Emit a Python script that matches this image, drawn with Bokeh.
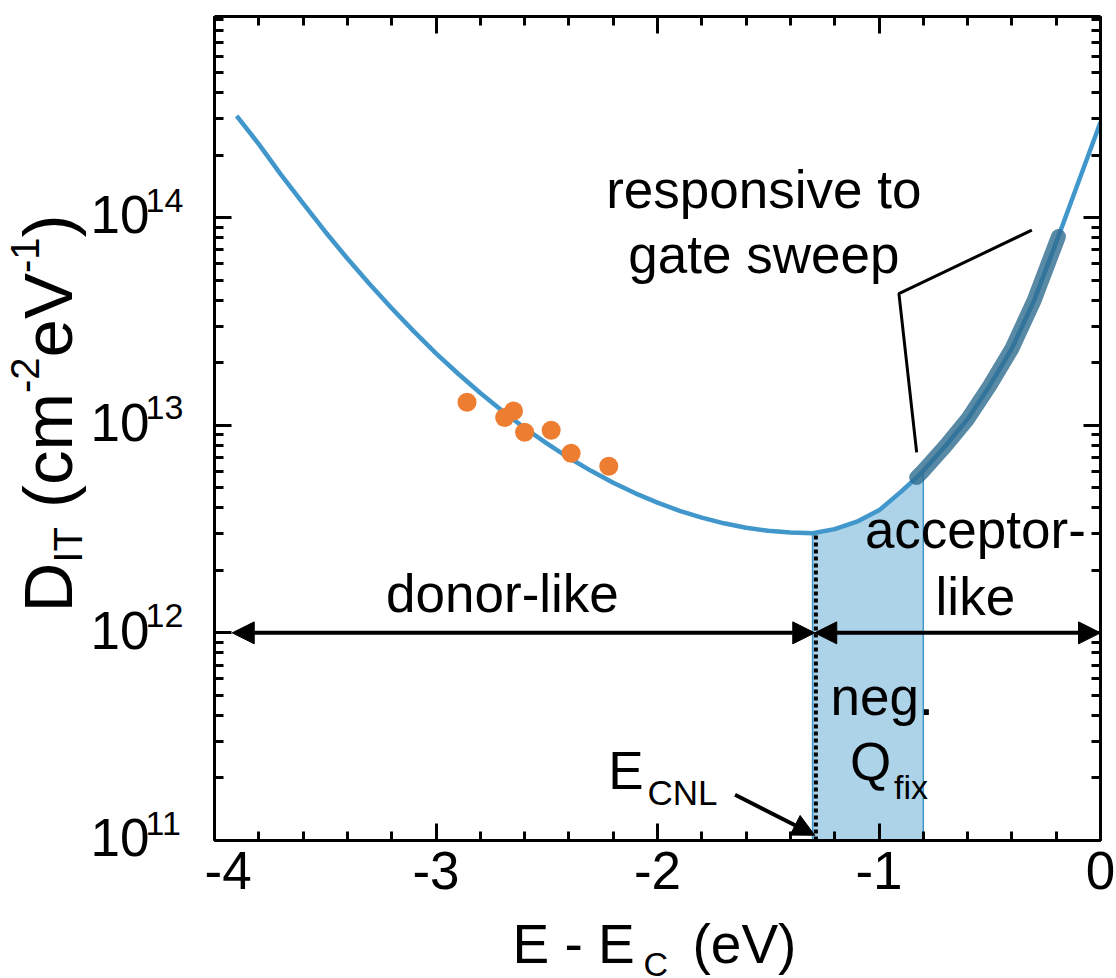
from math import pi, log10
from bokeh.plotting import figure
from bokeh.layouts import column, row
from bokeh.models import (Label, Arrow, NormalHead, LinearAxis, LogAxis,
                          FixedTicker, Range1d)
from bokeh.embed import file_html
from bokeh.resources import INLINE

# ---------------- data ----------------
curve_x = [-3.90, -3.80, -3.70, -3.60, -3.50, -3.40, -3.30, -3.20, -3.10, -3.00,
           -2.90, -2.80, -2.70, -2.60, -2.50, -2.40, -2.30, -2.20, -2.10, -2.00,
           -1.90, -1.80, -1.70, -1.60, -1.50, -1.40, -1.30, -1.20, -1.10, -1.00,
           -0.90, -0.83, -0.80, -0.70, -0.60, -0.50, -0.40, -0.30, -0.20, -0.10, 0.00]
curve_y = [3.09e14, 2.26e14, 1.61e14, 1.17e14, 8.55e13, 6.35e13, 4.79e13, 3.66e13, 2.83e13, 2.22e13,
           1.77e13, 1.43e13, 1.17e13, 9.7e12, 8.17e12, 6.97e12, 6.03e12, 5.28e12, 4.70e12, 4.24e12,
           3.87e12, 3.59e12, 3.37e12, 3.21e12, 3.10e12, 3.04e12, 3.02e12, 3.16e12, 3.43e12, 3.89e12,
           4.79e12, 5.6e12, 6.03e12, 7.94e12, 1.07e13, 1.55e13, 2.34e13, 3.98e13, 7.59e13, 1.48e14, 2.88e14]

sweep_x = [-0.83, -0.80, -0.70, -0.60, -0.50, -0.40, -0.30, -0.20, -0.19]
sweep_y = [5.6e12, 6.03e12, 7.94e12, 1.07e13, 1.55e13, 2.34e13, 3.98e13, 7.59e13, 8.1e13]

meas_x = [-2.86, -2.69, -2.65, -2.60, -2.48, -2.39, -2.22]
meas_y = [1.29e13, 1.09e13, 1.17e13, 9.25e12, 9.46e12, 7.33e12, 6.35e12]

fill_left, fill_right = -1.30, -0.80
fill_x = [x for x in curve_x if fill_left <= x <= fill_right]
fill_top = [y for x, y in zip(curve_x, curve_y) if fill_left <= x <= fill_right]
E_cnl = -1.285
cnl_top = 3.02e12
qfix_right_top = 6.03e12

arrow_level = 1e12
donor_span = [-3.92, -1.29]
acceptor_span = [-1.29, 0.0]

leader_x = [-0.31, -0.91, -0.83]
leader_y = [8.7e13, 4.3e13, 7.4e12]

x_ticks = [-4, -3, -2, -1, 0]
x_tick_labels = ["-4", "-3", "-2", "-1", "0"]
x_minor = [-4 + 0.2 * i for i in range(21)]
y_ticks = [1e11, 1e12, 1e13, 1e14]
y_exps = ["11", "12", "13", "14"]
y_minor = [k * 10.0 ** n for n in range(11, 15) for k in range(1, 10)]

x_lo, x_hi = -4.0, 0.0
y_lo, y_hi = 1e11, 9.3e14

FONT = "Liberation Sans"
BLUE = "#4197cb"
FILL = "#acd3e8"
ORANGE = "#ed7d31"

# page geometry (pixels)
W_PAGE, H_PAGE = 1116, 978
LEFT_W = 204            # strip holding the y tick labels and the y title
TOP_H = 915             # height of the row holding the plot
FRAME_TOP, FRAME_BOTTOM = 16, 840
PX_PER_DEC = (FRAME_BOTTOM - FRAME_TOP) / (log10(y_hi) - log10(y_lo))
BASE_FIX = 0.39         # em shift so the alphabetic baseline lands where intended

# ---------------- main figure ----------------
p = figure(width=W_PAGE - LEFT_W, height=TOP_H, x_range=Range1d(x_lo, x_hi),
           y_range=Range1d(y_lo, y_hi), y_axis_type="log", output_backend="svg",
           toolbar_location=None, min_border_left=10, min_border_right=16,
           min_border_top=FRAME_TOP, min_border_bottom=TOP_H - FRAME_BOTTOM,
           x_axis_location=None, y_axis_location=None)
p.grid.visible = False
p.outline_line_color = None


def style_axis(ax, show_labels):
    ax.axis_line_width = 3
    ax.axis_line_color = "black"
    ax.major_tick_in = 17
    ax.major_tick_out = 0
    ax.minor_tick_in = 9
    ax.minor_tick_out = 0
    ax.major_tick_line_width = 3
    ax.minor_tick_line_width = 3
    ax.major_tick_line_color = "black"
    ax.minor_tick_line_color = "black"
    if show_labels:
        ax.major_label_text_font = FONT
        ax.major_label_text_font_size = "53px"
        ax.major_label_text_color = "black"
        ax.major_label_standoff = 11
        ax.major_label_overrides = dict(zip(x_ticks, x_tick_labels))
    else:
        ax.major_label_text_font_size = "1px"
        ax.major_label_text_color = None
        ax.major_label_standoff = 0


xt = FixedTicker(ticks=x_ticks, minor_ticks=x_minor)
yt = FixedTicker(ticks=y_ticks, minor_ticks=y_minor)
bottom = LinearAxis(ticker=xt)
style_axis(bottom, True)
top = LinearAxis(ticker=xt)
style_axis(top, False)
left = LogAxis(ticker=yt)
style_axis(left, False)
right = LogAxis(ticker=yt)
style_axis(right, False)
p.add_layout(bottom, "below")
p.add_layout(top, "above")
p.add_layout(left, "left")
p.add_layout(right, "right")

# shaded "neg. Q_fix" region
p.varea(x=fill_x, y1=[y_lo] * len(fill_x), y2=fill_top, fill_color=FILL)
p.segment(x0=[fill_left, fill_right], y0=[y_lo, y_lo], x1=[fill_left, fill_right],
          y1=[cnl_top, qfix_right_top], line_color=BLUE, line_width=1.5)

# model curve
p.line(curve_x, curve_y, line_color=BLUE, line_width=4.5, line_join="round")
# section responsive to the gate sweep
p.line(sweep_x, sweep_y, line_color="#2e6b8e", line_alpha=0.8, line_width=15,
       line_cap="round", line_join="round")

# measured points
p.scatter(meas_x, meas_y, size=19, fill_color=ORANGE, line_color=None)

# E_CNL dotted line
p.segment(x0=[E_cnl], y0=[y_lo], x1=[E_cnl], y1=[cnl_top], line_color="black",
          line_width=4, line_dash="4 3")

# leader lines
p.line(leader_x, leader_y, line_color="black", line_width=3)


def head():
    return NormalHead(size=22, fill_color="black", line_color="black", line_width=1)


for span in (donor_span, acceptor_span):
    p.add_layout(Arrow(start=head(), end=head(), x_start=span[0], y_start=arrow_level,
                       x_end=span[1], y_end=arrow_level, line_width=4, line_color="black"))

p.add_layout(Arrow(end=head(), x_start=-1.65, y_start=1.66e11, x_end=-1.29, y_end=1.06e11,
                   line_width=4, line_color="black"))


def txt(fig, x, y, s, size=53, align="center", angle=0.0, place=None):
    xo, yo = 0.0, 0.0
    if angle == 0.0:
        yo = BASE_FIX * size
    else:
        xo = -BASE_FIX * size
    lab = Label(x=x, y=y, text=s, x_offset=xo, y_offset=yo, angle=angle,
                text_font=FONT, text_font_size=f"{size}px", text_color="black",
                text_align=align, text_baseline="alphabetic")
    if place is None:
        fig.add_layout(lab)
    else:
        fig.add_layout(lab, place)   # side panel: not clipped to the frame


# annotations in the plot
txt(p, -1.52, 1.08e14, "responsive to")
txt(p, -1.52, 5.26e13, "gate sweep")
txt(p, -2.70, 1.23e12, "donor-like")
txt(p, -0.565, 2.5e12, "acceptor-")
txt(p, -0.565, 1.19e12, "like")
txt(p, -0.986, 3.94e11, "neg.")
txt(p, -1.131, 1.92e11, "Q", align="left")
txt(p, -0.932, 1.57e11, "fix", size=34, align="left")
txt(p, -2.222, 1.72e11, "E", align="left")
txt(p, -2.045, 1.47e11, "CNL", size=35, align="left")

# ---------------- left strip: y tick labels and y title (page pixel coordinates) ----------------
lf = figure(width=LEFT_W, height=TOP_H, x_range=Range1d(0, LEFT_W),
            y_range=Range1d(FRAME_BOTTOM, FRAME_TOP),
            output_backend="svg", toolbar_location=None,
            min_border_left=0, min_border_right=0,
            min_border_top=FRAME_TOP, min_border_bottom=TOP_H - FRAME_BOTTOM,
            x_axis_location=None, y_axis_location=None)
lf.grid.visible = False
lf.outline_line_color = None

for t, e in zip(y_ticks, y_exps):
    ty = FRAME_TOP + (log10(y_hi) - log10(t)) * PX_PER_DEC
    crosses = ty + 18 > FRAME_BOTTOM - 2
    txt(lf, 149, ty + 18, "10", align="right", place="below" if crosses else None)
    txt(lf, 145, ty - 4, e, size=34, align="left")

W = {'D': .722, 'I': .278, 'T': .611, ' ': .278, '(': .333, 'c': .5, 'm': .833,
     '-': .333, '2': .556, 'e': .556, 'V': .667, '1': .556, ')': .333}
MAIN, SMALL = 69, 40
pieces = [("D", MAIN, 0), ("IT", SMALL, 8), (" ", MAIN, None), ("(cm", MAIN, 0),
          ("-2", SMALL, -35), ("eV", MAIN, 0), ("-1", SMALL, -35), (")", MAIN, 0)]
cum = 0.0
for s, size, shift in pieces:
    if shift is not None:
        txt(lf, 75 + shift, 612 - cum, s, size=size, align="left", angle=pi / 2)
    cum += sum(W[ch] for ch in s) * size

# ---------------- bottom strip: x title (page pixel coordinates) ----------------
bf = figure(width=W_PAGE, height=H_PAGE - TOP_H, x_range=Range1d(0, W_PAGE),
            y_range=Range1d(H_PAGE, TOP_H), output_backend="svg", toolbar_location=None,
            min_border=0, x_axis_location=None, y_axis_location=None)
bf.grid.visible = False
bf.outline_line_color = None
txt(bf, 512, 965, "E - E", size=55, align="left")
txt(bf, 643, 977, "C", size=34, align="left")
txt(bf, 692, 965, "(eV)", size=55, align="left")

layout = column(row(lf, p), bf)
open("out.html", "w").write(file_html(layout, INLINE))
